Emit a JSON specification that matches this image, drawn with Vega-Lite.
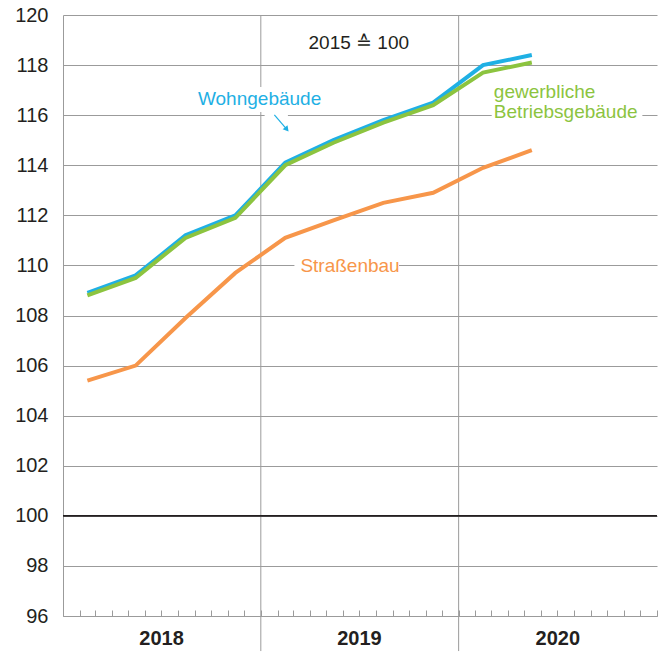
{
  "$schema": "https://vega.github.io/schema/vega-lite/v6.json",
  "width": 594,
  "height": 601,
  "autosize": {"type": "none"},
  "padding": {"left": 63, "top": 15, "right": 9, "bottom": 41},
  "background": "white",
  "config": {
    "view": {"stroke": null},
    "font": "Liberation Sans",
    "axis": {"labelFont": "Liberation Sans", "labelColor": "#231f20", "titleFont": "Liberation Sans"}
  },
  "datasets": {
    "series": [
      {"date": "2018-02-15", "value": 108.9, "series": "Wohngebäude"},
      {"date": "2018-05-15", "value": 109.6, "series": "Wohngebäude"},
      {"date": "2018-08-15", "value": 111.2, "series": "Wohngebäude"},
      {"date": "2018-11-15", "value": 112.0, "series": "Wohngebäude"},
      {"date": "2019-02-15", "value": 114.1, "series": "Wohngebäude"},
      {"date": "2019-05-15", "value": 115.0, "series": "Wohngebäude"},
      {"date": "2019-08-15", "value": 115.8, "series": "Wohngebäude"},
      {"date": "2019-11-15", "value": 116.5, "series": "Wohngebäude"},
      {"date": "2020-02-15", "value": 118.0, "series": "Wohngebäude"},
      {"date": "2020-05-15", "value": 118.4, "series": "Wohngebäude"},
      {"date": "2018-02-15", "value": 108.8, "series": "gewerbliche Betriebsgebäude"},
      {"date": "2018-05-15", "value": 109.5, "series": "gewerbliche Betriebsgebäude"},
      {"date": "2018-08-15", "value": 111.1, "series": "gewerbliche Betriebsgebäude"},
      {"date": "2018-11-15", "value": 111.9, "series": "gewerbliche Betriebsgebäude"},
      {"date": "2019-02-15", "value": 114.0, "series": "gewerbliche Betriebsgebäude"},
      {"date": "2019-05-15", "value": 114.9, "series": "gewerbliche Betriebsgebäude"},
      {"date": "2019-08-15", "value": 115.7, "series": "gewerbliche Betriebsgebäude"},
      {"date": "2019-11-15", "value": 116.4, "series": "gewerbliche Betriebsgebäude"},
      {"date": "2020-02-15", "value": 117.7, "series": "gewerbliche Betriebsgebäude"},
      {"date": "2020-05-15", "value": 118.1, "series": "gewerbliche Betriebsgebäude"},
      {"date": "2018-02-15", "value": 105.4, "series": "Straßenbau"},
      {"date": "2018-05-15", "value": 106.0, "series": "Straßenbau"},
      {"date": "2018-08-15", "value": 107.9, "series": "Straßenbau"},
      {"date": "2018-11-15", "value": 109.7, "series": "Straßenbau"},
      {"date": "2019-02-15", "value": 111.1, "series": "Straßenbau"},
      {"date": "2019-05-15", "value": 111.8, "series": "Straßenbau"},
      {"date": "2019-08-15", "value": 112.5, "series": "Straßenbau"},
      {"date": "2019-11-15", "value": 112.9, "series": "Straßenbau"},
      {"date": "2020-02-15", "value": 113.9, "series": "Straßenbau"},
      {"date": "2020-05-15", "value": 114.6, "series": "Straßenbau"}
    ],
    "labels": [
      {"date": "2019-03-30", "value": 118.63, "text": "2015 ≙ 100", "series": "base"},
      {"date": "2018-09-07", "value": 116.41, "text": "Wohngebäude", "series": "Wohngebäude"},
      {"date": "2020-03-06", "value": 116.67, "text": "gewerbliche", "series": "gewerbliche Betriebsgebäude"},
      {"date": "2020-03-06", "value": 115.9, "text": "Betriebsgebäude", "series": "gewerbliche Betriebsgebäude"},
      {"date": "2019-03-15", "value": 109.72, "text": "Straßenbau", "series": "Straßenbau"}
    ],
    "masks": [
      {"date": "2018-09-02", "date2": "2019-04-28", "value": 117.12, "value2": 116.13},
      {"date": "2019-01-08", "date2": "2019-02-20", "value": 116.13, "value2": 115.9},
      {"date": "2019-03-04", "date2": "2019-09-13", "value": 110.38, "value2": 109.54},
      {"date": "2020-03-02", "date2": "2020-12-05", "value": 117.28, "value2": 115.69}
    ],
    "years": [
      {"date": "2019-01-01"},
      {"date": "2020-01-01"}
    ],
    "arrow": [
      {"date": "2019-01-26", "date2": "2019-02-18", "value": 116.01, "value2": 115.43}
    ]
  },
  "layer": [
    {
      "data": {"name": "years"},
      "mark": {"type": "rule", "color": "#9b9b9b", "strokeWidth": 1, "clip": false},
      "encoding": {
        "x": {"field": "date", "type": "temporal", "title": null},
        "y": {"datum": 120, "type": "quantitative", "title": null},
        "y2": {"datum": 94.6}
      }
    },
    {
      "data": {"values": [{"v": 100}]},
      "mark": {"type": "rule", "color": "#231f20", "strokeWidth": 1.6},
      "encoding": {
        "y": {"field": "v", "type": "quantitative", "title": null}
      }
    },
    {
      "data": {"name": "masks"},
      "mark": {"type": "rect", "color": "white"},
      "encoding": {
        "x": {"field": "date", "type": "temporal", "title": null},
        "x2": {"field": "date2"},
        "y": {"field": "value", "type": "quantitative", "title": null},
        "y2": {"field": "value2"}
      }
    },
    {
      "data": {"name": "series"},
      "mark": {"type": "line", "strokeWidth": 4, "strokeCap": "butt", "strokeJoin": "miter"},
      "encoding": {
        "x": {
          "field": "date",
          "type": "temporal",
          "scale": {"domain": [{"year": 2018, "month": 1, "date": 1}, {"year": 2021, "month": 1, "date": 1}], "nice": false},
          "axis": {
            "title": null,
            "grid": false,
            "domain": true,
            "domainColor": "#9b9b9b",
            "domainWidth": 1,
            "tickCount": {"interval": "month", "step": 1},
            "tickColor": "#9b9b9b",
            "tickSize": -6,
            "tickWidth": 1,
            "labelExpr": "month(datum.value) == 6 ? timeFormat(datum.value, '%Y') : ''",
            "labelOverlap": false,
            "labelFlush": false,
            "labelFontSize": 20,
            "labelFontWeight": "bold",
            "labelPadding": 18,
            "labelBaseline": "top"
          }
        },
        "y": {
          "field": "value",
          "type": "quantitative",
          "scale": {"domain": [96, 120], "nice": false, "zero": false},
          "axis": {
            "title": null,
            "values": [96, 98, 100, 102, 104, 106, 108, 110, 112, 114, 116, 118, 120],
            "grid": true,
            "gridColor": "#9b9b9b",
            "gridWidth": 1,
            "ticks": false,
            "domain": true,
            "domainColor": "#9b9b9b",
            "labelFontSize": 20,
            "labelPadding": 15
          }
        },
        "color": {
          "field": "series",
          "type": "nominal",
          "scale": {
            "domain": ["Wohngebäude", "gewerbliche Betriebsgebäude", "Straßenbau", "base"],
            "range": ["#1fb0e4", "#8cc43f", "#f7964a", "#231f20"]
          },
          "legend": null
        }
      }
    },
    {
      "data": {"name": "arrow"},
      "mark": {"type": "rule", "color": "#1fb0e4", "strokeWidth": 1.2},
      "encoding": {
        "x": {"field": "date", "type": "temporal", "title": null},
        "x2": {"field": "date2"},
        "y": {"field": "value", "type": "quantitative", "title": null},
        "y2": {"field": "value2"}
      }
    },
    {
      "data": {"name": "arrow"},
      "mark": {"type": "point", "shape": "triangle-down", "filled": true, "color": "#1fb0e4", "size": 40, "angle": 320, "opacity": 1},
      "encoding": {
        "x": {"field": "date2", "type": "temporal", "title": null},
        "y": {"field": "value2", "type": "quantitative", "title": null}
      }
    },
    {
      "data": {"name": "labels"},
      "mark": {"type": "text", "align": "left", "baseline": "alphabetic", "fontSize": 19, "font": "Liberation Sans"},
      "encoding": {
        "x": {"field": "date", "type": "temporal", "title": null},
        "y": {"field": "value", "type": "quantitative", "title": null},
        "text": {"field": "text"},
        "color": {"field": "series", "type": "nominal", "legend": null}
      }
    }
  ]
}
